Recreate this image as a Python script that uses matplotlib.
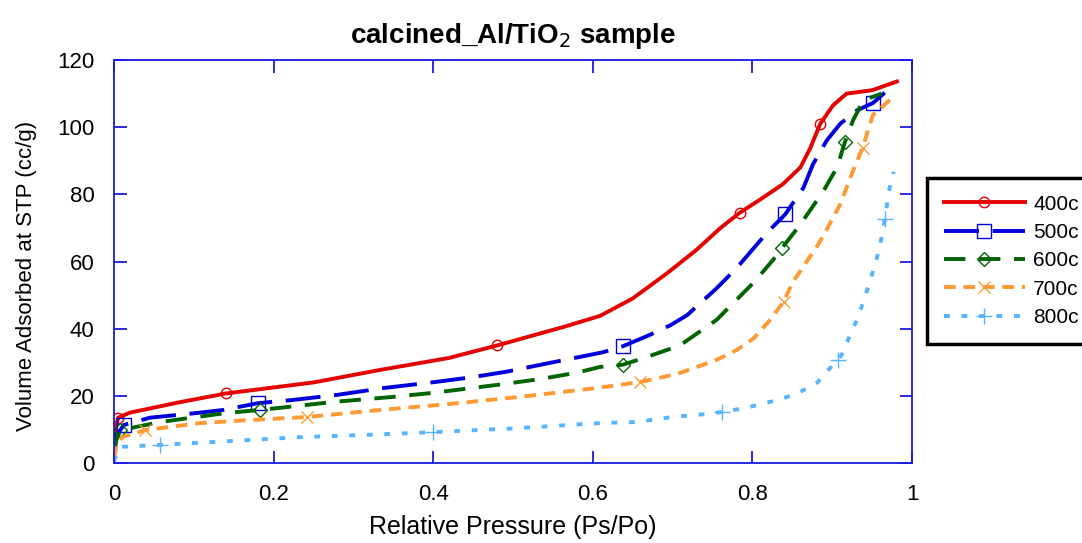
import matplotlib
matplotlib.use("Agg")
import matplotlib.pyplot as plt

plt.rcParams['font.family'] = ['Liberation Sans', 'DejaVu Sans']

# isotherm data: relative pressure vs adsorbed volume (cc/g)
x_400 = [0.0, 0.002, 0.005, 0.02, 0.05, 0.08, 0.14, 0.2, 0.25, 0.333, 0.42, 0.48,
         0.563, 0.609, 0.65, 0.693, 0.73, 0.76, 0.784, 0.81, 0.838, 0.86, 0.872,
         0.885, 0.901, 0.918, 0.95, 0.981]
y_400 = [4, 10, 13.5, 15, 16.5, 18, 20.7, 22.5, 24, 27.7, 31.3, 35, 40.5, 43.8, 49,
         56.5, 63.5, 70, 74.5, 78.5, 83, 88, 93.5, 101, 106.5, 110, 111, 113.6]
m_400 = [0.005, 0.14, 0.48, 0.784, 0.885]

x_500 = [0.0, 0.003, 0.012, 0.045, 0.1, 0.137, 0.18, 0.225, 0.28, 0.337, 0.405,
         0.45, 0.492, 0.55, 0.584, 0.613, 0.638, 0.67, 0.697, 0.718, 0.755, 0.78,
         0.797, 0.818, 0.841, 0.864, 0.876, 0.893, 0.91, 0.931, 0.951, 0.977]
y_500 = [3, 8, 11.3, 13.5, 14.8, 15.8, 17.8, 18.8, 20.3, 22.3, 24.2, 25.6, 27.2,
         30, 31.6, 33, 34.8, 38, 41, 44, 52, 58, 62.7, 68.5, 74, 82, 89, 96, 101,
         105, 107.2, 112.6]
m_500 = [0.012, 0.18, 0.638, 0.841, 0.951]

x_600 = [0.0, 0.003, 0.008, 0.058, 0.1, 0.141, 0.183, 0.23, 0.275, 0.35, 0.4,
         0.444, 0.488, 0.534, 0.58, 0.609, 0.638, 0.668, 0.709, 0.755, 0.801,
         0.826, 0.837, 0.86, 0.889, 0.906, 0.916, 0.926, 0.939, 0.962]
y_600 = [3, 7, 9.8, 12.2, 13.6, 14.9, 15.8, 17, 18.2, 19.7, 20.9, 22.2, 23.5, 25,
         26.9, 28.6, 29.3, 31.6, 35, 42.6, 53.6, 60.5, 64, 71, 81, 88, 95.6, 102,
         108, 110]
m_600 = [0.008, 0.183, 0.638, 0.837, 0.916]

x_700 = [0.0, 0.003, 0.01, 0.039, 0.108, 0.17, 0.242, 0.333, 0.417, 0.509, 0.6,
         0.659, 0.688, 0.709, 0.734, 0.755, 0.78, 0.801, 0.82, 0.839, 0.851,
         0.868, 0.881, 0.893, 0.91, 0.926, 0.938, 0.951, 0.975]
y_700 = [1.5, 5, 7.7, 9.8, 11.9, 12.8, 13.7, 15.8, 17.5, 19.7, 22.2, 24.1, 25.6,
         26.8, 28.9, 30.7, 33.6, 37, 42, 48, 54, 60, 64.5, 69.5, 77, 87, 93.8,
         103.6, 108.7]
m_700 = [0.039, 0.242, 0.659, 0.839, 0.938]

x_800 = [0.0, 0.003, 0.008, 0.058, 0.15, 0.233, 0.32, 0.4, 0.5, 0.609, 0.655,
         0.699, 0.743, 0.762, 0.791, 0.812, 0.835, 0.857, 0.881, 0.897, 0.907,
         0.914, 0.922, 0.931, 0.939, 0.945, 0.951, 0.957, 0.962, 0.966, 0.972,
         0.977]
y_800 = [0.5, 2.5, 4.8, 5.4, 6.6, 7.7, 8.4, 9.2, 10.3, 11.9, 12.2, 13.7, 14.6,
         15.2, 16.4, 17.6, 19, 20.8, 23.9, 28.2, 30.6, 33, 38, 42.6, 48, 52.4,
         57, 62, 67.3, 72.7, 82, 86.7]
m_800 = [0.058, 0.4, 0.762, 0.907, 0.966]

x_ticks = [0, 0.2, 0.4, 0.6, 0.8, 1]
x_ticklabels = ["0", "0.2", "0.4", "0.6", "0.8", "1"]
y_ticks = [0, 20, 40, 60, 80, 100, 120]

series = [
    ("400c", x_400, y_400, m_400, "#e60000", "-", "o", 7.5),
    ("500c", x_500, y_500, m_500, "#0000dd", (0, (9, 3.5)), "s", 10),
    ("600c", x_600, y_600, m_600, "#006400", (0, (5.5, 3.5)), "D", 7.5),
    ("700c", x_700, y_700, m_700, "#ff9933", (0, (3, 2)), "x", 8.5),
    ("800c", x_800, y_800, m_800, "#55b4ff", (0, (1.5, 3)), "+", 11),
]

fig = plt.figure(figsize=(10.82, 5.43), dpi=100)
ax = fig.add_axes([0.1054, 0.1473, 0.7375, 0.7422])

for name, xs, ys, marks, col, ls, mk, ms in series:
    idx = [xs.index(m) for m in marks]
    ax.plot(xs, ys, color=col, linestyle=ls, linewidth=2.8, marker=mk,
            markersize=ms, markerfacecolor="none", markeredgecolor=col,
            markeredgewidth=1.0, markevery=idx, label=name)

ax.set_xlim(0, 1)
ax.set_ylim(0, 120)
ax.set_xticks(x_ticks)
ax.set_xticklabels(x_ticklabels)
ax.set_yticks(y_ticks)

spine_col = "#1a1ae0"
for s in ax.spines.values():
    s.set_color(spine_col)
    s.set_linewidth(1.3)
ax.tick_params(direction="in", length=9, width=1.3, color=spine_col,
               top=True, right=True, labelsize=16)
ax.tick_params(axis="x", pad=15)
ax.tick_params(axis="y", pad=14)

ax.set_xlabel("Relative Pressure (Ps/Po)", fontsize=18, labelpad=7)
ax.set_ylabel("Volume Adsorbed at STP (cc/g)", fontsize=16)
ax.yaxis.set_label_coords(-0.097, 0.465)
ax.set_title("calcined_Al/TiO$_2$ sample", fontsize=20, fontweight="bold", pad=12)

leg = fig.legend(loc="upper left", bbox_to_anchor=(927 / 1082, 1 - 178 / 543),
                 borderaxespad=0, fontsize=15, handlelength=3.9, handletextpad=0.4,
                 labelspacing=0.45, borderpad=0.8, fancybox=False,
                 framealpha=1, edgecolor="black")
leg.get_frame().set_linewidth(2.5)

fig.savefig("out.png", dpi=100)
